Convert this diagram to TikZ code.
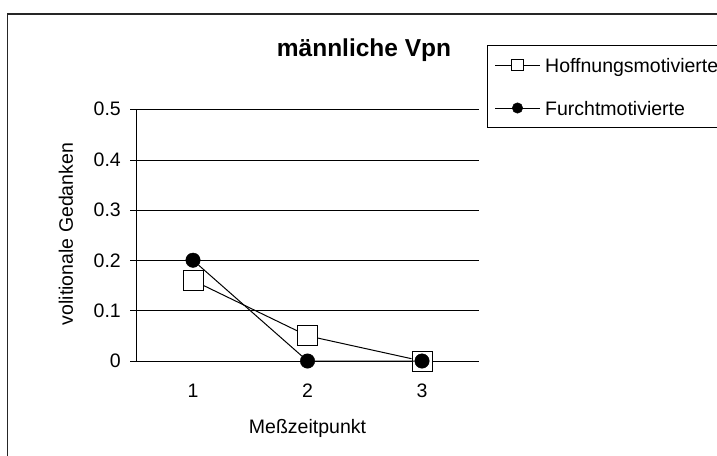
\documentclass[tikz,border=0pt]{standalone}
\usepackage{fontspec}
\setmainfont{Liberation Sans}
\begin{document}
\begin{tikzpicture}[x=1pt,y=-1pt,
  lbl/.style={inner sep=0pt, font=\fontsize{19.5}{21}\selectfont},
  frame/.style={draw=black!85, line width=1.4pt},
  grid/.style={draw=black, line width=1pt},
  dline/.style={draw=black, line width=1pt},
  sqm/.style={draw=black, fill=white, line width=1pt, minimum size=20pt, inner sep=0pt, rectangle},
  cim/.style={draw=black, fill=black, circle, minimum size=14.5pt, inner sep=0pt},
  sqs/.style={draw=black, fill=white, line width=1pt, minimum size=11.5pt, inner sep=0pt, rectangle},
  cis/.style={draw=black, fill=black, circle, minimum size=10.5pt, inner sep=0pt}]
\useasboundingbox (0,0) rectangle (717,455);
\clip (0,0) rectangle (717,455);
\fill[white] (0,0) rectangle (717,455);
% outer frame
\draw[frame] (7.5,14) rectangle (740,480);
% title
\node[anchor=base, inner sep=0pt, font=\fontsize{24.5}{27}\selectfont\bfseries] (title) at (364,56.5) {männliche Vpn};
% gridlines and ticks
\foreach \v/\y in {0/361,0.1/310.5,0.2/260.5,0.3/210,0.4/160,0.5/109}{
  \draw[grid] (130,\y) -- (479,\y);
  \node[lbl, anchor=base east] at (121,\y+6.8) {\v};
}
\draw[grid] (136,109) -- (136,361);
% axis labels
\node[lbl, rotate=90, anchor=center] (ylab) at (66,234) {volitionale Gedanken};
\foreach \x/\t in {193/1,307.5/2,422/3}{
  \node[lbl, anchor=base] at (\x,397) {\t};
}
\node[lbl, anchor=base] (xlab) at (307.5,433) {Meßzeitpunkt};
% data: Hoffnungsmotivierte
\node[sqm] (h1) at (193,280.4) {};
\node[sqm] (h2) at (307.5,335.8) {};
\node[sqm] (h3) at (422,361) {};
\draw[dline] (h1) -- (h2) -- (h3);
% data: Furchtmotivierte
\node[cim] (f1) at (193,260.2) {};
\node[cim] (f2) at (307.5,361) {};
\node[cim] (f3) at (422,361) {};
\draw[dline] (f1) -- (f2) -- (f3);
% legend
\draw[line width=1pt, draw=black] (487,45) rectangle (740,127);
\coordinate (la1) at (495,65);
\coordinate (lb1) at (540,65);
\draw[dline] (la1) -- (lb1);
\node[sqs] (ls) at (517.5,65) {};
\node[lbl, anchor=base west] (lt1) at (545,72) {Hoffnungsmotivierte};
\coordinate (la2) at (495,108);
\coordinate (lb2) at (540,108);
\draw[dline] (la2) -- (lb2);
\node[cis] (lc) at (517.5,108) {};
\node[lbl, anchor=base west] (lt2) at (545,115) {Furchtmotivierte};
\end{tikzpicture}
\end{document}
